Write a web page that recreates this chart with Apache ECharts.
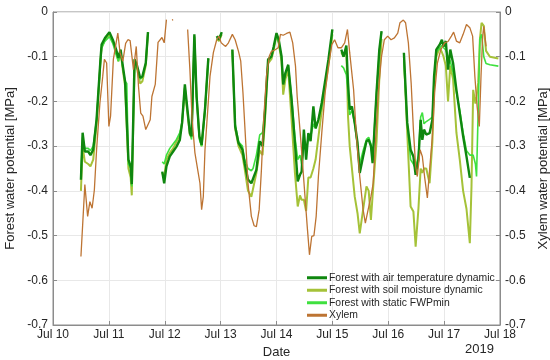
<!DOCTYPE html>
<html>
<head>
<meta charset="utf-8">
<script src="https://cdn.jsdelivr.net/npm/echarts@6/dist/echarts.min.js"></script>
<style>
  html, body { margin: 0; padding: 0; background: #fff; }
  #chart { width: 550px; height: 360px; }
</style>
</head>
<body>
<div id="chart"></div>
<script>
// days since Jul 10 00:00
var forestDays = [
  0.50,0.53,0.57,0.63,0.67,0.72,0.78,0.85,0.87,0.93,1.01,1.07,1.13,1.17,1.21,1.25,1.29,1.32,1.35,1.39,1.41,1.46,1.50,1.56,1.60,1.66,1.70,
  1.80,
  1.955,1.99,2.03,2.09,2.15,2.21,2.27,2.31,2.36,2.40,2.45,2.48,2.53,2.57,2.62,2.66,2.72,2.78,
  2.85,
  2.93,2.97,3.02,
  3.10,
  3.21,3.26,3.32,3.39,3.43,3.49,3.55,3.58,3.64,3.70,3.75,3.79,3.85,3.91,3.95,4.00,4.04,4.09,4.12,4.16,4.21,4.27,4.33,4.38,4.42,4.45,4.49,4.53,4.57,4.61,4.66,4.70,4.75,4.81,4.87,4.93,5.00,
  5.08,
  5.16,5.20,5.25,5.28,5.31,5.35,5.40,5.45,5.49,5.55,5.61,5.65,5.69,5.72,5.79,5.84,5.88,
  6.00,
  6.28,6.34,6.40,6.45,6.49,6.54,6.58,6.61,6.64,6.68,6.74,6.79,6.82,6.86,6.92,6.96,6.99,7.03,7.07,7.11,7.16,7.22,7.28,7.34,7.40,7.46,7.49,7.52,7.56,7.58,7.61,7.64,7.67,7.71,7.75,7.82,7.97
];

var airTemp = [
  -0.375,-0.27,-0.312,-0.312,-0.32,-0.308,-0.24,-0.106,-0.073,-0.058,-0.045,-0.062,-0.084,-0.103,-0.084,-0.121,-0.155,-0.158,-0.33,-0.345,-0.385,-0.106,-0.118,-0.147,-0.144,-0.114,-0.045,
  null,
  -0.357,-0.383,-0.345,-0.323,-0.312,-0.301,-0.286,-0.248,-0.162,-0.211,-0.271,-0.278,-0.05,-0.189,-0.278,-0.297,-0.218,-0.103,
  null,
  -0.054,-0.062,-0.045,
  null,
  -0.084,-0.256,-0.293,-0.308,-0.338,-0.375,-0.383,-0.38,-0.353,-0.289,-0.30,-0.233,-0.106,-0.099,-0.077,-0.047,-0.062,-0.099,-0.162,-0.136,-0.118,-0.196,-0.293,-0.379,-0.364,-0.357,-0.263,-0.33,-0.271,-0.289,-0.211,-0.26,-0.241,-0.203,-0.155,-0.106,-0.039,
  null,
  -0.084,-0.10,-0.075,-0.159,-0.218,-0.211,-0.248,-0.293,-0.36,-0.323,-0.289,-0.286,-0.30,-0.338,-0.181,-0.084,-0.043,
  null,
  -0.091,-0.248,-0.308,-0.323,-0.364,-0.33,-0.241,-0.286,-0.263,-0.274,-0.271,-0.241,-0.144,-0.084,-0.073,-0.062,-0.077,-0.065,-0.129,-0.084,-0.114,-0.174,-0.226,-0.278,-0.323,-0.371,
  null,null,null,null,null,null,null,null,null,null,null
];

var soilMoisture = [
  -0.40,-0.30,-0.335,-0.34,-0.345,-0.33,-0.25,-0.11,-0.08,-0.062,-0.05,-0.065,-0.09,-0.11,-0.09,-0.13,-0.165,-0.165,-0.35,-0.37,-0.41,-0.11,-0.125,-0.16,-0.155,-0.12,-0.045,
  null,
  -0.36,-0.37,-0.33,-0.315,-0.305,-0.29,-0.275,-0.25,-0.17,-0.22,-0.275,-0.28,-0.055,-0.19,-0.28,-0.30,-0.22,-0.105,
  null,
  -0.06,-0.065,-0.05,
  null,
  -0.085,-0.26,-0.30,-0.32,-0.35,-0.40,-0.413,-0.41,-0.36,-0.31,-0.32,-0.25,-0.115,-0.105,-0.085,-0.05,-0.07,-0.11,-0.185,-0.15,-0.13,-0.24,-0.36,-0.435,-0.41,-0.42,-0.42,-0.445,-0.37,-0.37,-0.35,-0.33,-0.28,-0.22,-0.17,-0.12,-0.05,
  null,
  -0.09,-0.10,-0.08,-0.233,-0.30,-0.35,-0.413,-0.45,-0.495,-0.442,-0.39,-0.40,-0.465,-0.41,-0.29,-0.15,-0.06,
  null,
  -0.10,-0.27,-0.435,-0.446,-0.525,-0.44,-0.35,-0.36,-0.35,-0.35,-0.383,-0.29,-0.17,-0.10,-0.08,-0.09,-0.10,-0.12,-0.20,-0.12,-0.15,-0.27,-0.33,-0.40,-0.44,-0.517,
  -0.39,-0.174,-0.205,-0.19,-0.158,-0.062,-0.024,-0.031,-0.087,-0.10,-0.104
];

var staticMin = [
  -0.36,-0.28,-0.305,-0.305,-0.31,-0.30,-0.24,-0.11,-0.08,-0.065,-0.055,-0.07,-0.095,-0.11,-0.09,-0.125,-0.155,-0.16,-0.34,-0.35,-0.39,-0.105,-0.12,-0.15,-0.145,-0.115,-0.045,
  null,
  -0.335,-0.34,-0.32,-0.305,-0.295,-0.285,-0.27,-0.245,-0.165,-0.215,-0.27,-0.285,-0.055,-0.19,-0.285,-0.30,-0.22,-0.105,
  null,
  -0.06,-0.055,-0.05,
  null,
  -0.09,-0.25,-0.29,-0.30,-0.33,-0.35,-0.355,-0.35,-0.32,-0.275,-0.27,-0.22,-0.11,-0.10,-0.08,-0.05,-0.07,-0.10,-0.16,-0.14,-0.12,-0.19,-0.28,-0.33,-0.32,-0.34,-0.30,-0.31,-0.28,-0.28,-0.25,-0.26,-0.24,-0.21,-0.16,-0.11,-0.045,
  null,
  -0.12,-0.125,-0.14,-0.18,-0.23,-0.22,-0.25,-0.30,-0.34,-0.31,-0.285,-0.28,-0.295,-0.33,-0.18,-0.09,-0.045,
  null,
  -0.11,-0.25,-0.33,-0.34,-0.35,-0.32,-0.235,-0.225,-0.25,-0.245,-0.24,-0.235,-0.15,-0.09,-0.08,-0.075,-0.08,-0.085,-0.10,-0.11,-0.135,-0.18,-0.22,-0.27,-0.31,-0.32,
  -0.32,-0.32,-0.34,-0.368,-0.22,-0.06,-0.05,-0.10,-0.115,-0.118,-0.121
];

var xylemDays = [
  0.50,0.57,0.62,0.66,0.70,0.74,0.78,0.84,0.89,0.92,0.96,1.00,1.03,1.08,1.13,1.16,1.20,1.25,1.30,1.34,1.38,1.44,1.49,1.53,1.57,1.61,1.66,1.69,1.74,1.77,1.83,1.88,1.91,1.95,1.99,2.03,
  2.08,2.13,2.15,2.30,
  2.41,2.45,2.49,2.54,2.59,2.63,2.66,2.69,2.72,2.77,2.81,2.87,2.93,2.97,3.01,3.05,3.09,3.14,3.21,3.26,3.32,3.36,3.40,3.45,3.49,3.55,3.60,3.64,3.69,3.73,3.77,3.82,3.87,3.91,3.97,
  4.03,4.07,4.12,4.18,4.24,4.29,4.34,4.37,4.42,4.47,4.51,4.55,4.59,4.63,4.67,4.71,4.75,4.81,4.87,4.93,4.99,5.04,5.10,5.16,5.22,5.27,5.31,5.38,5.43,5.49,5.55,5.59,5.64,5.69,5.73,5.77,5.82,5.88,5.93,5.99,
  6.05,6.11,6.17,6.21,6.27,6.31,6.36,6.41,6.45,6.49,6.52,6.57,6.61,6.65,6.70,6.74,6.79,6.83,6.88,6.94,7.01,7.07,7.13,7.17,7.22,7.28,7.34,7.40,7.46,7.51,7.55,7.59,7.63,7.66,7.69,7.71,7.75
];

var xylem = [
  -0.547,-0.386,-0.457,-0.424,-0.439,-0.398,-0.308,-0.203,-0.144,-0.106,-0.114,-0.256,-0.233,-0.106,-0.069,-0.047,-0.091,-0.11,-0.07,-0.062,-0.064,-0.129,-0.077,-0.166,-0.226,-0.233,-0.263,-0.267,-0.241,-0.189,-0.162,-0.068,-0.07,-0.057,-0.069,-0.017,
  null,-0.018,-0.017,null,
  -0.039,-0.129,-0.241,-0.315,-0.353,-0.383,-0.442,-0.413,-0.308,-0.218,-0.144,-0.091,-0.062,-0.054,-0.069,-0.073,-0.077,-0.069,-0.05,-0.062,-0.088,-0.11,-0.181,-0.293,-0.383,-0.457,-0.478,-0.48,-0.442,-0.353,-0.241,-0.144,-0.099,-0.088,-0.085,
  -0.080,-0.05,-0.052,-0.048,-0.045,-0.069,-0.121,-0.189,-0.263,-0.345,-0.413,-0.48,-0.543,-0.502,-0.50,-0.457,-0.368,-0.271,-0.181,-0.121,-0.073,-0.062,-0.08,-0.08,-0.069,-0.039,-0.091,-0.174,-0.278,-0.368,-0.442,-0.472,-0.442,-0.413,-0.383,-0.293,-0.181,-0.099,-0.062,-0.054,
  -0.062,-0.058,-0.047,-0.024,-0.018,-0.024,-0.069,-0.159,-0.263,-0.345,-0.368,-0.308,-0.323,-0.368,-0.416,-0.353,-0.278,-0.181,-0.114,-0.084,-0.069,-0.066,-0.054,-0.045,-0.065,-0.069,-0.05,-0.028,-0.035,-0.054,-0.144,-0.211,-0.256,-0.144,-0.054,-0.032,-0.077
];

var dayLabels = ['Jul 10','Jul 11','Jul 12','Jul 13','Jul 14','Jul 15','Jul 16','Jul 17','Jul 18'];

function pairs(xs, ys) {
  return xs.map(function (x, i) { return [x, ys[i]]; });
}

var font = 'Liberation Sans, Arial, sans-serif';
var chart = echarts.init(document.getElementById('chart'));

var yAxisBase = {
  type: 'value',
  min: -0.7,
  max: 0,
  interval: 0.1,
  nameLocation: 'middle',
  nameTextStyle: { fontFamily: font, fontSize: 13, color: '#262626' },
  axisLine: { show: true, lineStyle: { color: '#8c8c8c' } },
  axisTick: { show: true, inside: true, length: 4, lineStyle: { color: '#8c8c8c' } },
  axisLabel: { fontFamily: font, fontSize: 12, color: '#262626', margin: 5 }
};

chart.setOption({
  animation: false,
  grid: {
    left: 53, right: 50, top: 12, bottom: 35,
    outerBoundsMode: 'none', containLabel: false,
    show: true, borderColor: '#8c8c8c', borderWidth: 1
  },
  legend: {
    orient: 'vertical',
    left: 302,
    top: 267,
    itemWidth: 20,
    itemHeight: 3,
    itemGap: 1,
    icon: 'rect',
    data: ['Forest with air temperature dynamic', 'Forest with soil moisture dynamic', 'Forest with static FWPmin', 'Xylem'],
    textStyle: { fontFamily: font, fontSize: 10.4, color: '#262626', padding: [0, 0, 0, -3], lineHeight: 11.5 }
  },
  xAxis: {
    type: 'value',
    min: 0,
    max: 8,
    interval: 1,
    name: 'Date',
    nameLocation: 'middle',
    nameGap: 18,
    nameTextStyle: { fontFamily: font, fontSize: 13, color: '#262626' },
    axisLine: { onZero: false, lineStyle: { color: '#8c8c8c' } },
    axisTick: { inside: true, length: 4, lineStyle: { color: '#8c8c8c' } },
    axisLabel: {
      fontFamily: font, fontSize: 12, color: '#262626', margin: 4,
      formatter: function (v) { return dayLabels[Math.round(v)]; }
    },
    splitLine: { show: true, lineStyle: { color: '#e8e8e8' } }
  },
  yAxis: [
    Object.assign({}, yAxisBase, {
      position: 'left',
      name: 'Forest water potential [MPa]',
      nameGap: 34,
      splitLine: { show: true, lineStyle: { color: '#e8e8e8' } }
    }),
    Object.assign({}, yAxisBase, {
      position: 'right',
      name: 'Xylem water potential [MPa]',
      nameGap: 35,
      splitLine: { show: false }
    })
  ],
  graphic: [{
    type: 'text',
    left: 465,
    top: 343,
    style: { text: '2019', font: '13px ' + font, fill: '#262626' }
  }],
  series: [
    {
      name: 'Forest with soil moisture dynamic',
      type: 'line', yAxisIndex: 0, showSymbol: false, z: 2,
      data: pairs(forestDays, soilMoisture),
      itemStyle: { color: '#a5c238' },
      lineStyle: { color: '#a5c238', width: 2 }
    },
    {
      name: 'Forest with static FWPmin',
      type: 'line', yAxisIndex: 0, showSymbol: false, z: 3,
      data: pairs(forestDays, staticMin),
      itemStyle: { color: '#3fe03f' },
      lineStyle: { color: '#3fe03f', width: 1.6 }
    },
    {
      name: 'Forest with air temperature dynamic',
      type: 'line', yAxisIndex: 0, showSymbol: false, z: 4,
      data: pairs(forestDays, airTemp),
      itemStyle: { color: '#0f870f' },
      lineStyle: { color: '#0f870f', width: 2.4 }
    },
    {
      name: 'Xylem',
      type: 'line', yAxisIndex: 1, showSymbol: false, z: 5,
      data: pairs(xylemDays, xylem),
      itemStyle: { color: '#bd7433' },
      lineStyle: { color: '#bd7433', width: 1.3 }
    }
  ]
});
</script>
</body>
</html>
